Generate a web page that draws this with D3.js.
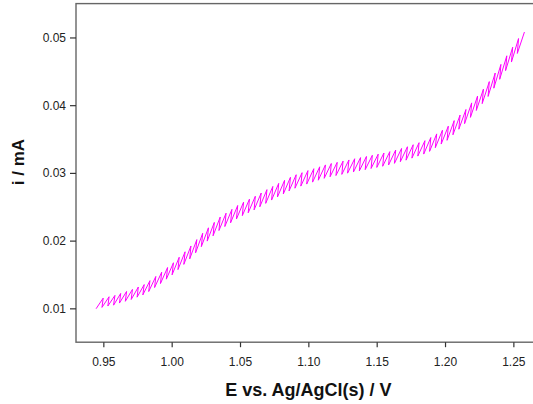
<!DOCTYPE html>
<html>
<head>
<meta charset="utf-8">
<script src="https://cdn.jsdelivr.net/npm/d3@7"></script>
<style>
  html, body { margin: 0; padding: 0; background: #fff; }
  svg { display: block; }
  .tick text { font-family: Arial, "Liberation Sans", sans-serif; font-size: 12px; fill: #222; }
  .axis-title { font-family: Arial, "Liberation Sans", sans-serif; font-weight: bold; fill: #111; }
</style>
</head>
<body>
<svg id="chart" width="533" height="404"></svg>
<script>
// Reverse-pulse (low) and forward-pulse (high) samples of the sweep, in V and mA
const eLow = [0.9447,0.9490,0.9533,0.9575,0.9618,0.9661,0.9704,0.9747,0.9789,0.9832,
  0.9875,0.9918,0.9961,1.0003,1.0046,1.0089,1.0132,1.0175,1.0217,1.0260,
  1.0303,1.0346,1.0389,1.0431,1.0474,1.0517,1.0560,1.0603,1.0645,1.0688,
  1.0731,1.0774,1.0817,1.0859,1.0902,1.0945,1.0988,1.1031,1.1073,1.1116,
  1.1159,1.1202,1.1245,1.1287,1.1330,1.1373,1.1416,1.1459,1.1501,1.1544,
  1.1587,1.1630,1.1673,1.1715,1.1758,1.1801,1.1844,1.1887,1.1929,1.1972,
  1.2015,1.2058,1.2101,1.2143,1.2186,1.2229,1.2272,1.2315,1.2357,1.2400,
  1.2443,1.2486,1.2529];
const iLow = [0.00994,0.01014,0.01034,0.01047,0.01078,0.01104,0.01131,0.01165,0.01198,0.01248,
  0.01307,0.01366,0.01431,0.01495,0.01572,0.01649,0.01730,0.01820,0.01911,0.01993,
  0.02071,0.02149,0.02208,0.02263,0.02319,0.02369,0.02411,0.02454,0.02500,0.02550,
  0.02599,0.02644,0.02689,0.02734,0.02774,0.02805,0.02835,0.02864,0.02892,0.02920,
  0.02943,0.02961,0.02978,0.02996,0.03013,0.03030,0.03048,0.03065,0.03081,0.03098,
  0.03117,0.03141,0.03165,0.03188,0.03218,0.03248,0.03278,0.03318,0.03372,0.03426,
  0.03481,0.03563,0.03645,0.03727,0.03820,0.03922,0.04023,0.04129,0.04251,0.04382,
  0.04510,0.04637,0.04764];
const eHigh = [0.9499,0.9542,0.9585,0.9627,0.9670,0.9713,0.9756,0.9799,0.9841,0.9884,
  0.9927,0.9970,1.0013,1.0055,1.0098,1.0141,1.0184,1.0227,1.0269,1.0312,
  1.0355,1.0398,1.0441,1.0483,1.0526,1.0569,1.0612,1.0655,1.0697,1.0740,
  1.0783,1.0826,1.0869,1.0911,1.0954,1.0997,1.1040,1.1083,1.1125,1.1168,
  1.1211,1.1254,1.1297,1.1339,1.1382,1.1425,1.1468,1.1511,1.1553,1.1596,
  1.1639,1.1682,1.1725,1.1767,1.1810,1.1853,1.1896,1.1939,1.1981,1.2024,
  1.2067,1.2110,1.2153,1.2195,1.2238,1.2281,1.2324,1.2367,1.2409,1.2452,
  1.2495,1.2538,1.2581];
const iHigh = [0.01151,0.01171,0.01191,0.01220,0.01249,0.01280,0.01315,0.01351,0.01409,0.01471,
  0.01534,0.01603,0.01673,0.01754,0.01835,0.01921,0.02015,0.02109,0.02189,0.02269,
  0.02348,0.02405,0.02462,0.02519,0.02568,0.02612,0.02655,0.02703,0.02753,0.02800,
  0.02845,0.02890,0.02935,0.02973,0.03003,0.03034,0.03062,0.03090,0.03118,0.03139,
  0.03156,0.03174,0.03191,0.03209,0.03226,0.03243,0.03260,0.03277,0.03294,0.03314,
  0.03338,0.03361,0.03386,0.03416,0.03446,0.03476,0.03522,0.03576,0.03630,0.03690,
  0.03772,0.03854,0.03936,0.04034,0.04135,0.04237,0.04348,0.04475,0.04602,0.04729,
  0.04856,0.04984,0.05080];

const xTicks = [0.95, 1.00, 1.05, 1.10, 1.15, 1.20, 1.25];
const yTicks = [0.01, 0.02, 0.03, 0.04, 0.05];
const xDomain = [0.93, 1.27];
const yDomain = [0.005, 0.055];

const svg = d3.select("#chart");
const plot = { left: 76, right: 540.7, top: 3.6, bottom: 342.2 };

const x = d3.scaleLinear().domain(xDomain).range([plot.left, plot.right]);
const y = d3.scaleLinear().domain(yDomain).range([plot.bottom, plot.top]);

// interleave the low/high samples into one zig-zag trace
const trace = [];
eLow.forEach((e, k) => {
  trace.push([e, iLow[k]]);
  trace.push([eHigh[k], iHigh[k]]);
});

// frame
svg.append("rect")
  .attr("x", plot.left).attr("y", plot.top)
  .attr("width", plot.right - plot.left).attr("height", plot.bottom - plot.top)
  .attr("fill", "none").attr("stroke", "#666").attr("stroke-width", 1.4);

svg.append("path")
  .datum(trace)
  .attr("fill", "none")
  .attr("stroke", "#ff00ff")
  .attr("stroke-width", 1)
  .attr("stroke-linejoin", "miter")
  .attr("d", d3.line().x(d => x(d[0])).y(d => y(d[1])));

const xAxis = svg.append("g")
  .attr("transform", `translate(0,${plot.bottom})`)
  .call(d3.axisBottom(x).tickValues(xTicks).tickFormat(d3.format(".2f")).tickSize(5).tickSizeOuter(0));
xAxis.select(".domain").remove();
xAxis.selectAll(".tick line").attr("stroke", "#333").attr("stroke-width", 1.2);
xAxis.selectAll(".tick text").attr("dy", "0.71em").attr("y", 15);

const yAxis = svg.append("g")
  .attr("transform", `translate(${plot.left},0)`)
  .call(d3.axisLeft(y).tickValues(yTicks).tickFormat(d3.format(".2f")).tickSize(6).tickSizeOuter(0));
yAxis.select(".domain").remove();
yAxis.selectAll(".tick line").attr("stroke", "#333").attr("stroke-width", 1.2);
yAxis.selectAll(".tick text").attr("x", -10);

svg.append("text")
  .attr("class", "axis-title")
  .attr("x", (plot.left + plot.right) / 2)
  .attr("y", 396)
  .attr("text-anchor", "middle")
  .style("font-size", "18px")
  .text("E vs. Ag/AgCl(s) / V");

svg.append("text")
  .attr("class", "axis-title")
  .attr("transform", "translate(24,162) rotate(-90)")
  .attr("text-anchor", "middle")
  .style("font-size", "17px")
  .text("i / mA");
</script>
</body>
</html>
